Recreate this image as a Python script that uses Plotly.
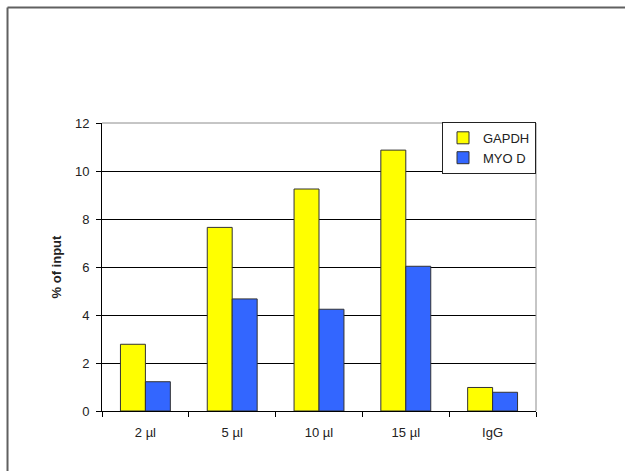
import plotly.graph_objects as go

# Chromatin IP: enrichment as % of input for each antibody amount
categories = ["2 µl", "5 µl", "10 µl", "15 µl", "IgG"]
gapdh = [2.78, 7.65, 9.25, 10.87, 0.98]
myod = [1.22, 4.67, 4.24, 6.03, 0.78]
y_ticks = [0, 2, 4, 6, 8, 10, 12]

FONT = "Liberation Sans, Arial, sans-serif"
TEXT = "#222222"

fig = go.Figure()
fig.add_trace(go.Bar(
    name="GAPDH", x=categories, y=gapdh,
    marker=dict(color="#FFFF00", line=dict(color="#333333", width=1)),
))
fig.add_trace(go.Bar(
    name="MYO D", x=categories, y=myod,
    marker=dict(color="#3366FF", line=dict(color="#333333", width=1)),
))

# outer chart frame: top and left edges only, reaching the page edges,
# plus grey top/right plot-area borders
frame = dict(color="#606060", width=2)
shapes = [
    dict(type="line", xref="paper", yref="paper",
         x0=-0.2177, x1=1.2051, y0=1.401, y1=1.401, line=frame, layer="below"),
    dict(type="line", xref="paper", yref="paper",
         x0=-0.2177, x1=-0.2177, y0=-0.2083, y1=1.401, line=frame, layer="below"),
    dict(type="line", xref="paper", yref="paper", x0=0, x1=1, y0=1, y1=1,
         line=dict(color="#8c8c8c", width=1)),
    dict(type="line", xref="paper", yref="paper", x0=1, x1=1, y0=0, y1=1,
         line=dict(color="#8c8c8c", width=1)),
]

fig.update_layout(
    width=625, height=471,
    margin=dict(l=102, r=89, t=123, b=60),
    paper_bgcolor="white", plot_bgcolor="white",
    barmode="group", bargap=0.425, bargroupgap=0,
    font=dict(family=FONT, size=13, color=TEXT),
    shapes=shapes,
    legend=dict(
        x=1.0, y=1.004, xanchor="right", yanchor="top",
        bgcolor="white", bordercolor="#222222", borderwidth=1,
        font=dict(family=FONT, size=13, color=TEXT),
        itemwidth=30, tracegroupgap=2,
    ),
    xaxis=dict(
        type="category", tickson="boundaries",
        ticks="outside", ticklen=5, tickcolor="black",
        showline=True, linecolor="black", linewidth=1,
        showgrid=False, ticklabelstandoff=9,
        tickfont=dict(family=FONT, size=13, color=TEXT),
    ),
    yaxis=dict(
        range=[0, 12], tickvals=y_ticks,
        ticks="outside", ticklen=5, tickcolor="black",
        showline=True, linecolor="black", linewidth=1,
        showgrid=True, gridcolor="black", gridwidth=1,
        zeroline=False, ticklabelstandoff=4,
        tickfont=dict(family=FONT, size=13, color=TEXT),
        title=dict(text="<b>% of input</b>", standoff=10,
                   font=dict(family=FONT, size=13, color=TEXT)),
    ),
)

fig.write_html("out.html")
